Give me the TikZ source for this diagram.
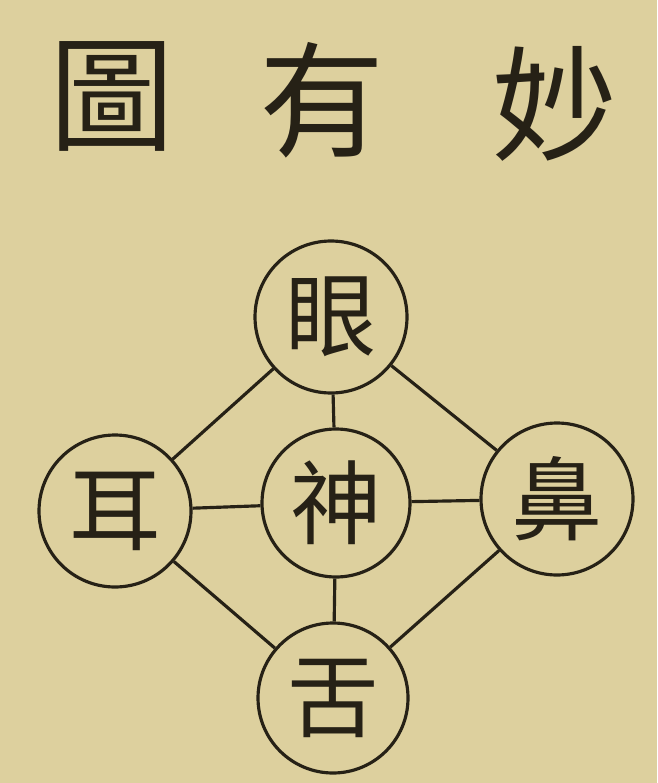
\documentclass[tikz,border=0pt]{standalone}
\usepackage{fontspec}
\newfontfamily\cjk{Noto Sans CJK TC}
\definecolor{paper}{RGB}{221,208,158}
\definecolor{ink}{RGB}{38,33,22}
\begin{document}
\begin{tikzpicture}[x=0.05cm,y=-0.05cm,
  organ/.style={circle,draw=ink,line width=4.5pt,minimum size=7.6cm,inner sep=0pt,
    font=\cjk\fontsize{130pt}{130pt}\selectfont,text=ink},
  title/.style={font=\cjk\fontsize{178pt}{178pt}\selectfont,text=ink,inner sep=0pt},
  link/.style={draw=ink,line width=4.5pt}]
\fill[paper] (0,0) rectangle (657,783);
\useasboundingbox (0,0) rectangle (657,783);
\node[title] (t1) at (112,96) {圖};
\node[title] (t2) at (322,100) {有};
\node[title] (t3) at (555,104) {妙};
\node[organ] (yan) at (331,317) {眼};
\node[organ] (er) at (115,511) {耳};
\node[organ,minimum size=7.4cm] (shen) at (336,503) {神};
\node[organ] (bi) at (557,499) {鼻};
\node[organ,minimum size=7.5cm] (she) at (333,698) {舌};
\draw[link] (yan) -- (er);
\draw[link] (yan) -- (bi);
\draw[link] (er) -- (she);
\draw[link] (bi) -- (she);
\draw[link] (yan) -- (shen);
\draw[link] (er) -- (shen);
\draw[link] (shen) -- (bi);
\draw[link] (shen) -- (she);
\end{tikzpicture}
\end{document}
